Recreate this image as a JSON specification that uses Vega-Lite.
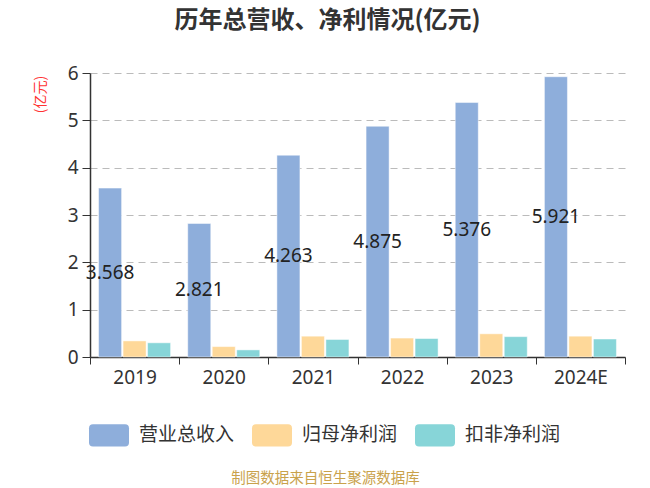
{
  "$schema": "https://vega.github.io/schema/vega-lite/v6.json",
  "width": 535,
  "height": 284,
  "autosize": {"type": "none"},
  "padding": {"left": 90, "top": 73, "right": 25, "bottom": 131},
  "background": "#ffffff",
  "title": {
    "text": "历年总营收、净利情况(亿元)",
    "font": "Noto Sans CJK SC",
    "fontSize": 24,
    "fontWeight": "bold",
    "color": "#333333",
    "anchor": "middle",
    "frame": "group",
    "dx": -30,
    "offset": 31
  },
  "config": {
    "font": "Noto Sans, Noto Sans CJK SC",
    "view": {"stroke": null}
  },
  "data": {
    "values": [
      {"year": "2019", "series": "营业总收入", "value": 3.568},
      {"year": "2019", "series": "归母净利润", "value": 0.34},
      {"year": "2019", "series": "扣非净利润", "value": 0.30},
      {"year": "2020", "series": "营业总收入", "value": 2.821},
      {"year": "2020", "series": "归母净利润", "value": 0.22},
      {"year": "2020", "series": "扣非净利润", "value": 0.15},
      {"year": "2021", "series": "营业总收入", "value": 4.263},
      {"year": "2021", "series": "归母净利润", "value": 0.44},
      {"year": "2021", "series": "扣非净利润", "value": 0.37},
      {"year": "2022", "series": "营业总收入", "value": 4.875},
      {"year": "2022", "series": "归母净利润", "value": 0.40},
      {"year": "2022", "series": "扣非净利润", "value": 0.39},
      {"year": "2023", "series": "营业总收入", "value": 5.376},
      {"year": "2023", "series": "归母净利润", "value": 0.49},
      {"year": "2023", "series": "扣非净利润", "value": 0.43},
      {"year": "2024E", "series": "营业总收入", "value": 5.921},
      {"year": "2024E", "series": "归母净利润", "value": 0.44},
      {"year": "2024E", "series": "扣非净利润", "value": 0.38}
    ]
  },
  "encoding": {
    "x": {
      "field": "year",
      "type": "nominal",
      "sort": null,
      "scale": {"paddingInner": 0, "paddingOuter": 0},
      "axis": {
        "title": "制图数据来自恒生聚源数据库",
        "titleColor": "#C9A24B",
        "titleFont": "Noto Sans CJK SC",
        "titleFontSize": 14.5,
        "titleFontWeight": "normal",
        "titleX": 235,
        "titleY": 121,
        "titleBaseline": "middle",
        "titleAlign": "center",
        "labelAngle": 0,
        "labelFontSize": 19,
        "labelColor": "#333333",
        "labelPadding": 4,
        "tickBand": "extent",
        "tickSize": 7,
        "tickColor": "#333333",
        "domainColor": "#333333",
        "domainWidth": 1.5,
        "grid": false
      }
    },
    "xOffset": {
      "field": "series",
      "type": "nominal",
      "sort": ["营业总收入", "归母净利润", "扣非净利润"],
      "scale": {"domain": ["营业总收入", "归母净利润", "扣非净利润"], "paddingInner": 0.06, "paddingOuter": 0.35}
    }
  },
  "layer": [
    {
      "mark": {"type": "bar", "stroke": "#ffffff", "strokeWidth": 0.8, "strokeOpacity": 0.6},
      "encoding": {
        "y": {
          "field": "value",
          "type": "quantitative",
          "scale": {"domain": [0, 6]},
          "axis": {
            "title": "(亿元)",
            "titleColor": "#FF3333",
            "titleFont": "Noto Sans CJK SC",
            "titleFontSize": 14,
            "titleFontWeight": "normal",
            "titleX": -50,
            "titleY": 21,
            "titleAlign": "center",
            "titleBaseline": "middle",
            "values": [0, 1, 2, 3, 4, 5, 6],
            "labelFontSize": 19,
            "labelColor": "#333333",
            "labelPadding": 4,
            "tickSize": 8,
            "tickColor": "#333333",
            "domainColor": "#333333",
            "domainWidth": 1.5,
            "gridColor": "#BBBBBB",
            "gridDash": [7, 5],
            "gridWidth": 1.2
          }
        },
        "color": {
          "field": "series",
          "type": "nominal",
          "sort": ["营业总收入", "归母净利润", "扣非净利润"],
          "scale": {
            "domain": ["营业总收入", "归母净利润", "扣非净利润"],
            "range": ["#8EAEDB", "#FED899", "#87D5D8"]
          },
          "legend": {
            "title": null,
            "orient": "none",
            "direction": "horizontal",
            "legendX": -1,
            "legendY": 342,
            "symbolType": "M-0.8,-0.56L0.8,-0.56Q1,-0.56 1,-0.36L1,0.36Q1,0.56 0.8,0.56L-0.8,0.56Q-1,0.56 -1,0.36L-1,-0.36Q-1,-0.56 -0.8,-0.56Z",
            "symbolSize": 1600,
            "symbolStrokeWidth": 0,
            "symbolOpacity": 1,
            "labelFont": "Noto Sans CJK SC",
            "labelFontSize": 19,
            "labelColor": "#333333",
            "labelOffset": 10,
            "columnPadding": 17
          }
        }
      }
    },
    {
      "transform": [{"filter": "datum.series === '营业总收入'"}],
      "mark": {"type": "text", "fontSize": 19, "color": "#222222", "baseline": "middle", "align": "center"},
      "encoding": {
        "y": {"field": "value", "type": "quantitative", "scale": {"domain": [0, 12]}, "axis": null},
        "text": {"field": "value", "type": "quantitative", "format": ".3f"}
      }
    }
  ],
  "resolve": {"scale": {"y": "independent"}}
}
